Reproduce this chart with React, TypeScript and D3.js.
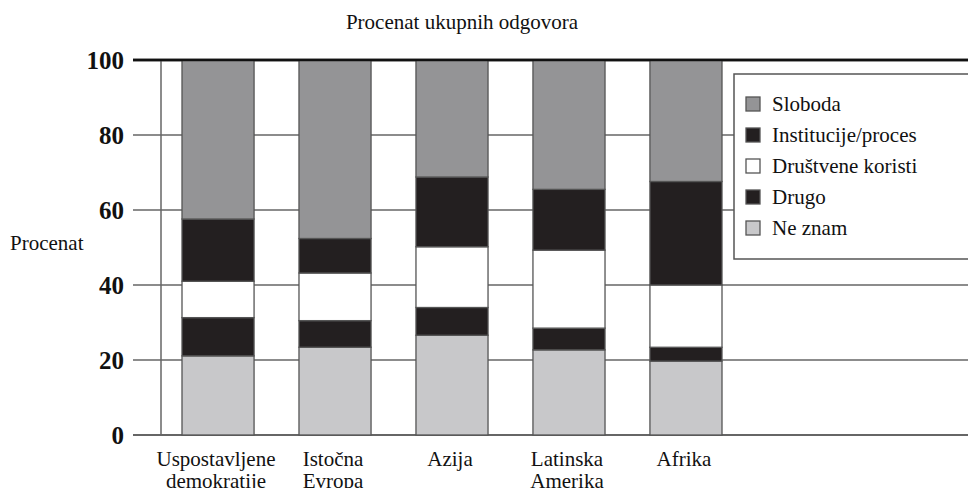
import * as d3 from "d3";

// stacked from the bottom up
const keys = ["neZnam", "drugo", "drustvene", "institucije", "sloboda"];
const categories = [
  ["Uspostavljene", "demokratije"],
  ["Istočna", "Evropa"],
  ["Azija"],
  ["Latinska", "Amerika"],
  ["Afrika"],
];
const neZnam = [21.1, 23.4, 26.6, 22.7, 19.7];
const drugo = [10.2, 7.1, 7.4, 5.8, 3.7];
const drustvene = [9.7, 12.7, 16.2, 20.8, 16.6];
const institucije = [16.6, 9.2, 18.6, 16.2, 27.6];
const sloboda = [42.4, 47.6, 31.2, 34.5, 32.4];
const yTicks = [0, 20, 40, 60, 80, 100];

// legend lists top segment first
const legendKeys = ["sloboda", "institucije", "drustvene", "drugo", "neZnam"];
const legendLabels = ["Sloboda", "Institucije/proces", "Društvene koristi", "Drugo", "Ne znam"];

const colors: Record<string, string> = {
  sloboda: "#949496",
  institucije: "#231f20",
  drustvene: "#ffffff",
  drugo: "#231f20",
  neZnam: "#c8c8ca",
};

const W = 968;
const H = 488;
const font = "'Liberation Serif', 'Times New Roman', serif";

export default function App() {
  const rows = categories.map((c, i) => ({
    cat: c.join(" "),
    neZnam: neZnam[i],
    drugo: drugo[i],
    drustvene: drustvene[i],
    institucije: institucije[i],
    sloboda: sloboda[i],
  }));
  const series = d3.stack<any>().keys(keys)(rows);

  const x = d3
    .scaleBand()
    .domain(rows.map((r) => r.cat))
    .range([182, 722])
    .paddingInner(0.384)
    .paddingOuter(0);
  const y = d3.scaleLinear().domain([0, 100]).range([435, 60]);

  return (
    <svg
      width={W}
      height={H}
      style={{ position: "absolute", left: 0, top: 0, background: "#fff" }}
      fontFamily={font}
    >
      <text x={462} y={29} fontSize={21} textAnchor="middle" fill="#111">
        Procenat ukupnih odgovora
      </text>
      <text x={10} y={250} fontSize={21} fill="#111">
        Procenat
      </text>

      {/* grid lines */}
      {yTicks.map((t) => (
        <g key={t}>
          <line
            x1={133}
            x2={W}
            y1={y(t)}
            y2={y(t)}
            stroke={t === 100 ? "#111" : t === 0 ? "#333" : "#666"}
            strokeWidth={t === 100 ? 2.6 : 1.4}
          />
          <text
            x={124}
            y={y(t) + 8.5}
            fontSize={25}
            fontWeight="bold"
            textAnchor="end"
            fill="#111"
          >
            {t}
          </text>
        </g>
      ))}
      <line x1={161} x2={161} y1={y(100)} y2={y(0)} stroke="#666" strokeWidth={1.5} />

      {/* bars */}
      {series.map((s) => (
        <g key={s.key}>
          {s.map((d, i) => (
            <rect
              key={i}
              x={x(rows[i].cat)}
              y={y(d[1])}
              width={x.bandwidth()}
              height={y(d[0]) - y(d[1])}
              fill={colors[s.key]}
              stroke="#555"
              strokeWidth={1.3}
            />
          ))}
        </g>
      ))}
      <line x1={133} x2={W} y1={y(100)} y2={y(100)} stroke="#111" strokeWidth={2.6} />

      {/* category labels */}
      {categories.map((c, i) => {
        const cx = (x(rows[i].cat) ?? 0) + x.bandwidth() / 2 - 2;
        return (
          <text key={i} x={cx} y={466} fontSize={21} textAnchor="middle" fill="#111">
            {c.map((line, j) => (
              <tspan key={j} x={cx} dy={j === 0 ? 0 : 22}>
                {line}
              </tspan>
            ))}
          </text>
        );
      })}

      {/* legend */}
      <rect x={734} y={74} width={260} height={185} fill="#fff" stroke="#555" strokeWidth={1.5} />
      {legendKeys.map((k, i) => (
        <g key={k} transform={`translate(746,${104 + i * 31})`}>
          <rect x={0} y={-7} width={14} height={14} fill={colors[k]} stroke="#555" strokeWidth={1.3} />
          <text x={26} y={7} fontSize={21} fill="#111">
            {legendLabels[i]}
          </text>
        </g>
      ))}
    </svg>
  );
}
